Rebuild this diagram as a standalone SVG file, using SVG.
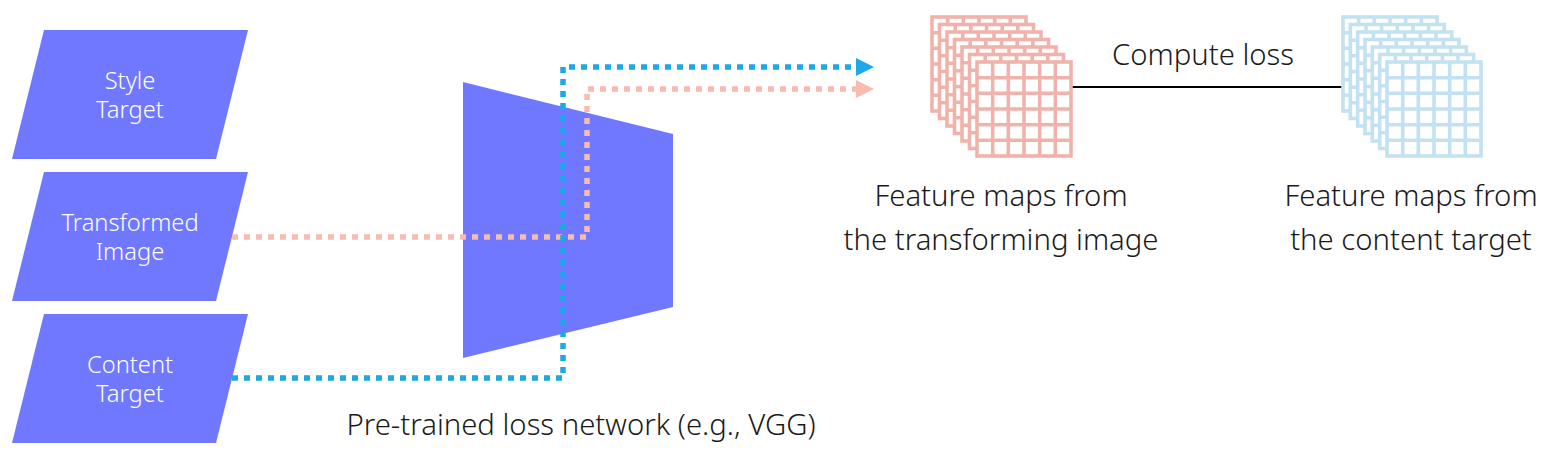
<svg xmlns="http://www.w3.org/2000/svg" xmlns:xlink="http://www.w3.org/1999/xlink" width="1553" height="463" viewBox="0 0 1553 463">
<style>
.shape{fill:#6F78FE}
.nlabel{font-family:"Noto Sans","Liberation Sans",sans-serif;font-size:23.7px;font-weight:300;fill:#ffffff;text-anchor:middle}
.label{font-family:"Noto Sans","Liberation Sans",sans-serif;font-size:29.3px;font-weight:300;fill:#1a1a1a;text-anchor:middle}
.blue{fill:none;stroke:#1DA8E8;stroke-width:5.5;stroke-dasharray:6 6}
.pink{fill:none;stroke:#F8BBB0;stroke-width:5.5;stroke-dasharray:6 6}
.gp{fill:#ffffff;stroke:#F0B3AB;stroke-width:3.6}
.gb{fill:#ffffff;stroke:#C3E2F1;stroke-width:3.6}
</style>
<defs>
<g id="grid">
<rect x="0" y="0" width="94" height="94"/>
<path d="M15.7,0V94M31.3,0V94M47,0V94M62.7,0V94M78.3,0V94M0,15.7H94M0,31.3H94M0,47H94M0,62.7H94M0,78.3H94"/>
</g>
</defs>
<rect width="1553" height="463" fill="#ffffff"/>

<g id="style-target">
<polygon class="shape" points="44,30 248,30 216,159 12,159"/>
<text class="nlabel" x="130" y="89">Style</text>
<text class="nlabel" x="130" y="118">Target</text>
</g>
<g id="transformed-image">
<polygon class="shape" points="44,172 248,172 216,301 12,301"/>
<text class="nlabel" x="130" y="231">Transformed</text>
<text class="nlabel" x="130" y="260">Image</text>
</g>
<g id="content-target">
<polygon class="shape" points="44,314 248,314 216,443 12,443"/>
<text class="nlabel" x="130" y="373">Content</text>
<text class="nlabel" x="130" y="402">Target</text>
</g>
<g id="loss-network">
<polygon class="shape" points="463,82 673,134 673,307 463,358"/>
<text class="label" x="581" y="435">Pre-trained loss network (e.g., VGG)</text>
</g>

<g id="loss-line">
<line x1="931" y1="87" x2="1482" y2="87" stroke="#000000" stroke-width="2"/>
<text class="label" x="1203" y="65">Compute loss</text>
</g>

<g id="features-transforming">
<use xlink:href="#grid" class="gp" x="932" y="17"/>
<use xlink:href="#grid" class="gp" x="939.5" y="24.5"/>
<use xlink:href="#grid" class="gp" x="947" y="32"/>
<use xlink:href="#grid" class="gp" x="954.5" y="39.5"/>
<use xlink:href="#grid" class="gp" x="962" y="47"/>
<use xlink:href="#grid" class="gp" x="969.5" y="54.5"/>
<use xlink:href="#grid" class="gp" x="977" y="62"/>
<text class="label" x="1001" y="206">Feature maps from</text>
<text class="label" x="1001" y="250">the transforming image</text>
</g>

<g id="features-content">
<use xlink:href="#grid" class="gb" x="1343" y="17"/>
<use xlink:href="#grid" class="gb" x="1350.3" y="24.5"/>
<use xlink:href="#grid" class="gb" x="1357.7" y="32"/>
<use xlink:href="#grid" class="gb" x="1365" y="39.5"/>
<use xlink:href="#grid" class="gb" x="1372.3" y="47"/>
<use xlink:href="#grid" class="gb" x="1379.7" y="54.5"/>
<use xlink:href="#grid" class="gb" x="1387" y="62"/>
<text class="label" x="1411" y="206">Feature maps from</text>
<text class="label" x="1411" y="250">the content target</text>
</g>

<g id="connectors">
<path class="pink" d="M232,237 H587 V89 H858"/>
<polygon points="856,80 874,89 856,98" fill="#F8BBB0"/>
<path class="blue" d="M232,378 H563 V67 H858"/>
<polygon points="856,58 874,67 856,76" fill="#1DA8E8"/>
</g>
</svg>
